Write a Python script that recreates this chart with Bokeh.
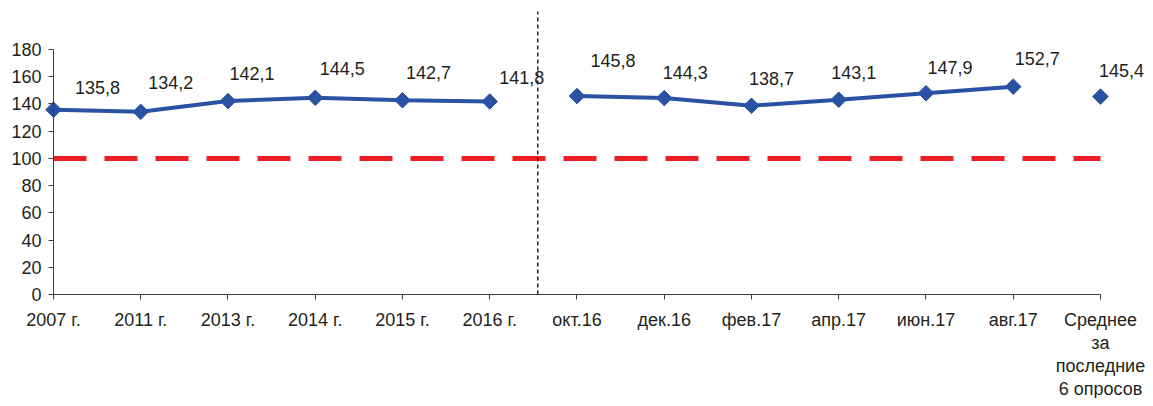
import numpy as np
from bokeh.plotting import figure
from bokeh.models import ColumnDataSource, LinearAxis, FixedTicker, Range1d
from bokeh.core.properties import value
from bokeh.embed import file_html
from bokeh.resources import INLINE

# ---- data ----
categories = ["2007 г.", "2011 г.", "2013 г.", "2014 г.", "2015 г.", "2016 г.",
              "окт.16", "дек.16", "фев.17", "апр.17", "июн.17", "авг.17",
              "Среднее\nза\nпоследние\n6 опросов"]
annual_values = [135.8, 134.2, 142.1, 144.5, 142.7, 141.8]
survey_values = [145.8, 144.3, 138.7, 143.1, 147.9, 152.7]
average_value = [145.4]
reference_level = 100
y_ticks = [0, 20, 40, 60, 80, 100, 120, 140, 160, 180]

# label placement (screen px offsets from each point, as placed in the original)
label_dx = [44, 30, 24, 27, 26, 32, 36, 21, 20, 15, 24, 24, 21]
label_dy = [-22, -29, -28, -29, -28, -24, -36, -26, -27, -27, -26, -28, -26]

FONT = value("Liberation Sans")
BLUE = "#2A52A3"
RED = "#EE1C25"
AXIS = "#3c3c3c"
TEXT = "#231F20"


def fmt(v):
    return f"{v:.1f}".replace(".", ",")


n_annual = len(annual_values)
n_survey = len(survey_values)
x_annual = list(range(n_annual))
x_survey = list(range(n_annual, n_annual + n_survey))
x_avg = [n_annual + n_survey]

src_annual = ColumnDataSource(dict(x=x_annual, y=annual_values))
src_survey = ColumnDataSource(dict(x=x_survey, y=survey_values))
src_avg = ColumnDataSource(dict(x=x_avg, y=average_value))

all_x = x_annual + x_survey + x_avg
all_y = annual_values + survey_values + average_value
src_labels = ColumnDataSource(dict(x=all_x, y=all_y, t=[fmt(v) for v in all_y],
                                   dx=label_dx, dy=label_dy))

p = figure(width=1145, height=398, output_backend="svg", toolbar_location=None,
           x_range=Range1d(-0.6074, 12.516), y_range=Range1d(-76.41, 216.0),
           x_axis_type=None, y_axis_type=None, min_border=0,
           outline_line_color=None, background_fill_color="white",
           border_fill_color="white")

# axes
yaxis = LinearAxis(fixed_location=0, bounds=(0, 180), ticker=FixedTicker(ticks=y_ticks))
yaxis.axis_line_color = AXIS
yaxis.major_tick_line_color = AXIS
yaxis.minor_tick_line_color = None
yaxis.major_tick_in = 0
yaxis.major_tick_out = 5
yaxis.major_label_standoff = 7
yaxis.major_label_text_font = "Liberation Sans"
yaxis.major_label_text_font_size = "18px"
yaxis.major_label_text_color = TEXT
p.add_layout(yaxis, "left")

xaxis = LinearAxis(fixed_location=0, bounds=(0, len(categories) - 1),
                   ticker=FixedTicker(ticks=list(range(len(categories)))),
                   major_label_overrides={i: c for i, c in enumerate(categories)})
xaxis.axis_line_color = AXIS
xaxis.major_tick_line_color = AXIS
xaxis.minor_tick_line_color = None
xaxis.major_tick_in = 0
xaxis.major_tick_out = 5
xaxis.major_label_standoff = 11
xaxis.major_label_text_font = "Liberation Sans"
xaxis.major_label_text_font_size = "18px"
xaxis.major_label_text_color = TEXT
xaxis.major_label_text_line_height = 1.15
p.add_layout(xaxis, "below")

# reference level line
p.line(x=[0, len(categories) - 1], y=[reference_level, reference_level],
       line_color=RED, line_width=5, line_dash="33 18")

# separator between annual and survey data
p.segment(x0=[5.55], y0=[0], x1=[5.55], y1=[208], line_color="#222222",
          line_width=1.5, line_dash="4 3")

# series
for src in (src_annual, src_survey):
    p.line("x", "y", source=src, line_color=BLUE, line_width=4)
for src in (src_annual, src_survey, src_avg):
    p.scatter("x", "y", source=src, marker="square", angle=np.pi / 4, size=11,
              fill_color=BLUE, line_color=BLUE)

# data labels
p.text("x", "y", text="t", source=src_labels, x_offset="dx", y_offset="dy",
       text_align="center", text_baseline="middle", text_font=FONT,
       text_font_size=value("18px"), text_color=TEXT)

open("out.html", "w").write(file_html(p, INLINE))
